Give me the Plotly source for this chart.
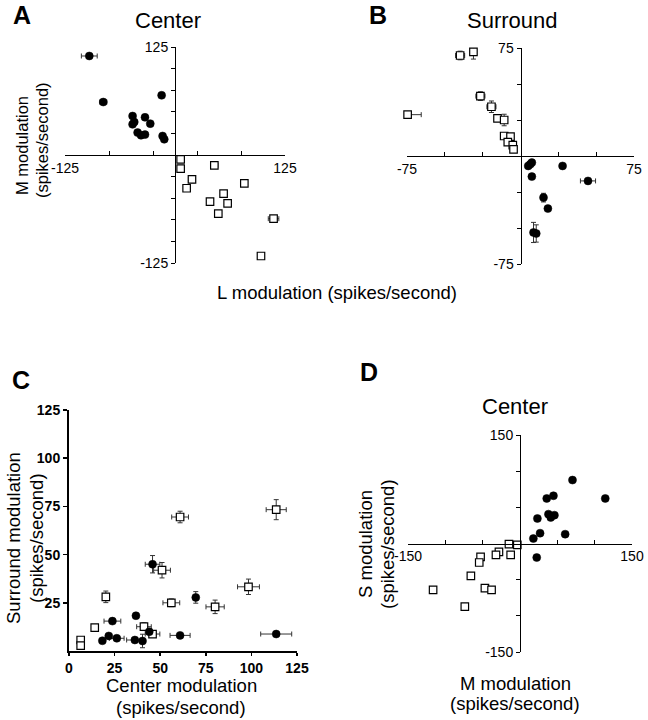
import plotly.graph_objects as go

FONT = "Liberation Sans"
W, H = 648, 720

# ---------------- Panel A: Center (L vs M modulation) ----------------
a_fill_L = [-97.4, -81.5, -15.2, -48.2, -34.1, -46.3, -48.2, -28.1, -42.5, -38.6, -34.1, -14.1, -12.2]
a_fill_M = [114.6, 61.3, 69.1, 45.1, 43.6, 38.2, 35.5, 36.3, 25.9, 22.8, 23.6, 22.0, 18.2]
a_fill_Lerr = [9, 4, 0, 0, 0, 0, 0, 0, 0, 0, 0, 0, 0]
a_fill_Merr = [1, 2, 0, 0, 0, 0, 0, 0, 0, 0, 0, 0, 0]
a_open_L = [6.4, 6.4, 44.7, 19.3, 13.2, 78.8, 55.2, 39.8, 59.8, 49.2, 112.0, 97.7]
a_open_M = [-5.0, -15.7, -11.9, -28.1, -38.5, -32.8, -44.7, -54.0, -55.9, -67.9, -73.7, -116.9]
a_open_Lerr = [0, 0, 4, 4, 0, 0, 0, 0, 0, 0, 6, 0]
a_open_Merr = [0, 0, 3, 4, 0, 0, 0, 0, 0, 0, 3, 0]

# ---------------- Panel B: Surround (L vs M modulation) ----------------
b_open_L = [-39.9, -31.1, -26.5, -19.2, -74.6, -15.2, -10.8, -10.8, -6.6, -8.4, -5.1, -4.6]
b_open_M = [69.8, 72.3, 41.6, 34.2, 28.7, 26.1, 25.0, 13.9, 13.4, 9.7, 7.6, 4.6]
b_open_Lerr = [3, 2, 3, 3, 9, 0, 0, 0, 0, 0, 0, 0]
b_open_Merr = [3, 5, 3, 4, 1, 0, 4, 0, 0, 0, 0, 0]
b_fill_L = [7.5, 5.1, 6.4, 27.8, 7.5, 44.6, 15.2, 18.1, 8.6, 10.4]
b_fill_M = [-4.6, -6.9, -5.8, -6.9, -14.3, -17.3, -28.9, -36.5, -53.1, -53.8]
b_fill_Lerr = [0, 0, 0, 0, 0, 5, 0, 0, 0, 0]
b_fill_Merr = [0, 0, 0, 0, 0, 0, 3, 0, 7, 6]

# ---------------- Panel C: Center vs Surround modulation ----------------
c_open_center = [60.9, 113.6, 51.0, 20.2, 56.1, 98.4, 80.1, 14.1, 41.1, 45.8, 6.4, 6.4]
c_open_surround = [69.5, 73.3, 41.9, 28.1, 25.0, 33.3, 22.9, 12.1, 12.6, 8.8, 5.7, 2.8]
c_open_cerr = [4.6, 5.5, 4.6, 0, 4.6, 6.0, 5.0, 0, 4.0, 4.0, 0, 0]
c_open_serr = [3.0, 5.2, 4.0, 3.0, 2.0, 4.0, 3.5, 0, 2.0, 0, 0, 0]
c_fill_center = [45.8, 69.5, 23.8, 36.7, 21.8, 18.3, 26.2, 36.1, 40.3, 44.0, 60.9, 113.6]
c_fill_surround = [45.0, 27.8, 15.5, 18.3, 7.8, 5.3, 6.6, 5.7, 5.2, 10.0, 8.1, 8.8]
c_fill_cerr = [4.0, 0, 4.6, 0, 0, 0, 4.0, 4.5, 0, 0, 5.5, 8.5]
c_fill_serr = [4.5, 3.0, 0, 0, 0, 0, 0, 0, 3.5, 0, 0, 0]

# ---------------- Panel D: Center (M vs S modulation) ----------------
d_fill_M = [70.3, 114.2, 35.8, 44.8, 38.1, 41.2, 46.1, 23.3, 26.9, 17.9, 60.5, 22.4]
d_fill_S = [87.7, 62.3, 62.3, 66.0, 40.6, 36.0, 39.2, 34.6, 14.3, 6.9, 12.9, -19.4]
d_open_M = [-14.8, -3.6, -12.5, -28.2, -32.2, -52.8, -54.6, -65.8, -47.0, -38.1, -116.4, -73.9]
d_open_S = [-0.9, -1.8, -15.7, -11.5, -15.7, -18.5, -26.3, -44.8, -61.8, -64.1, -64.1, -87.2]

# tick values / labels
a_xticks = [-125, -75, -25, 25, 75, 125]
a_yticks = [-125, -100, -75, -50, -25, 25, 50, 75, 100, 125]
b_ticks = [-75, -50, -25, 25, 50, 75]
c_ticks = [0, 25, 50, 75, 100, 125]
c_yticks = [25, 50, 75, 100, 125]
d_ticks = [-150, -100, -50, 50, 100, 150]


def end_labels(vals):
    return [str(v) if v in (min(vals), max(vals)) else "" for v in vals]


def px_x(p):
    return p / W


def px_y(p):
    return 1 - p / H


fig = go.Figure()

ERR = dict(color="#333333", thickness=1, width=2.5)


def add_points(x, y, ex, ey, filled, axx, axy, size_c=8, size_s=7.5):
    if filled:
        marker = dict(symbol="circle", size=size_c, color="black",
                      line=dict(color="black", width=0.5))
    else:
        marker = dict(symbol="square", size=size_s, color="white",
                      line=dict(color="black", width=1.2))
    kw = {}
    if ex is not None:
        kw["error_x"] = dict(type="data", array=ex, visible=True, **ERR)
    if ey is not None:
        kw["error_y"] = dict(type="data", array=ey, visible=True, **ERR)
    fig.add_trace(go.Scatter(x=x, y=y, mode="markers", marker=marker,
                             xaxis=axx, yaxis=axy, cliponaxis=False,
                             showlegend=False, hoverinfo="skip", **kw))


add_points(a_open_L, a_open_M, a_open_Lerr, a_open_Merr, False, "x", "y")
add_points(a_fill_L, a_fill_M, a_fill_Lerr, a_fill_Merr, True, "x", "y")
add_points(b_open_L, b_open_M, b_open_Lerr, b_open_Merr, False, "x2", "y2")
add_points(b_fill_L, b_fill_M, b_fill_Lerr, b_fill_Merr, True, "x2", "y2")
add_points(c_open_center, c_open_surround, c_open_cerr, c_open_serr, False, "x3", "y3")
add_points(c_fill_center, c_fill_surround, c_fill_cerr, c_fill_serr, True, "x3", "y3")
add_points(d_open_M, d_open_S, None, None, False, "x4", "y4")
add_points(d_fill_M, d_fill_S, None, None, True, "x4", "y4")

TICKFONT = dict(family=FONT, size=14, color="black")


def cross_axes(xd_px, yd_px, rng, xt, yt):
    xdom = [px_x(xd_px[0]), px_x(xd_px[1])]
    ydom = [px_y(yd_px[1]), px_y(yd_px[0])]
    xa = dict(domain=xdom, range=[-rng, rng], anchor="free",
              position=(ydom[0] + ydom[1]) / 2, showline=True,
              linecolor="black", linewidth=1, ticks="inside", ticklen=4,
              tickcolor="black", tickvals=xt, ticktext=end_labels(xt),
              zeroline=False, showgrid=False, tickfont=TICKFONT,
              automargin=False, fixedrange=True)
    ya = dict(domain=ydom, range=[-rng, rng], anchor="free",
              position=(xdom[0] + xdom[1]) / 2, showline=True,
              linecolor="black", linewidth=1, ticks="outside", ticklen=4,
              tickcolor="black", tickvals=yt, ticktext=end_labels(yt),
              zeroline=False, showgrid=False, tickfont=TICKFONT,
              automargin=False, fixedrange=True)
    return xa, ya


xa1, ya1 = cross_axes((65, 285), (47, 263), 125, a_xticks, a_yticks)
xa2, ya2 = cross_axes((407, 634), (48, 264), 75, b_ticks, b_ticks)
xa4, ya4 = cross_axes((408, 632), (435, 652), 150, d_ticks, d_ticks)

BOLDTICK = dict(family=FONT, size=14, color="black", weight="bold")
xa3 = dict(domain=[px_x(69), px_x(297)], range=[0, 125], anchor="y3",
           showline=True, linecolor="black", linewidth=2, ticks="outside",
           ticklen=3, tickcolor="black", tickwidth=1.5, tickvals=c_ticks,
           zeroline=False, showgrid=False, tickfont=BOLDTICK,
           automargin=False, fixedrange=True)
ya3 = dict(domain=[px_y(651), px_y(410)], range=[0, 125], anchor="x3",
           showline=True, linecolor="black", linewidth=2, ticks="outside",
           ticklen=4, tickcolor="black", tickwidth=1.5, tickvals=c_yticks,
           zeroline=False, showgrid=False, tickfont=BOLDTICK,
           automargin=False, fixedrange=True)


def ann(text, x, y, size, bold=False, angle=0):
    return dict(text=text, x=px_x(x), y=px_y(y), xref="paper", yref="paper",
                xanchor="center", yanchor="middle", showarrow=False,
                textangle=angle,
                font=dict(family=FONT, size=size, color="black",
                          weight="bold" if bold else "normal"))


annotations = [
    ann("A", 22, 15, 25, True),
    ann("Center", 168, 20, 22),
    ann("B", 378, 15, 25, True),
    ann("Surround", 512, 20, 22),
    ann("M modulation", 22, 146, 16.5, angle=-90),
    ann("(spikes/second)", 42, 140, 16.5, angle=-90),
    ann("L modulation (spikes/second)", 337, 292, 18.5),
    ann("C", 21, 380, 25, True),
    ann("Surround modulation", 13, 538, 18.5, angle=-90),
    ann("(spikes/second)", 36, 538, 18.5, angle=-90),
    ann("Center modulation", 181, 685, 18.5),
    ann("(spikes/second)", 181, 707, 18.5),
    ann("D", 369, 372, 25, True),
    ann("Center", 515, 406, 22),
    ann("S modulation", 365, 544, 18.5, angle=-90),
    ann("(spikes/second)", 387, 544, 18.5, angle=-90),
    ann("M modulation", 515, 683, 18.5),
    ann("(spikes/second)", 515, 703, 18.5),
]

fig.update_layout(
    template="none",
    width=W, height=H, margin=dict(l=0, r=0, t=0, b=0, pad=0, autoexpand=False),
    paper_bgcolor="white", plot_bgcolor="white", showlegend=False,
    font=dict(family=FONT, color="black"),
    xaxis=xa1, yaxis=ya1, xaxis2=xa2, yaxis2=ya2,
    xaxis3=xa3, yaxis3=ya3, xaxis4=xa4, yaxis4=ya4,
    annotations=annotations,
)

fig.write_html(
    "out.html",
    config={"displayModeBar": False, "staticPlot": True},
    post_script="document.body.style.margin='0px';"
                "document.body.style.overflow='hidden';",
)
